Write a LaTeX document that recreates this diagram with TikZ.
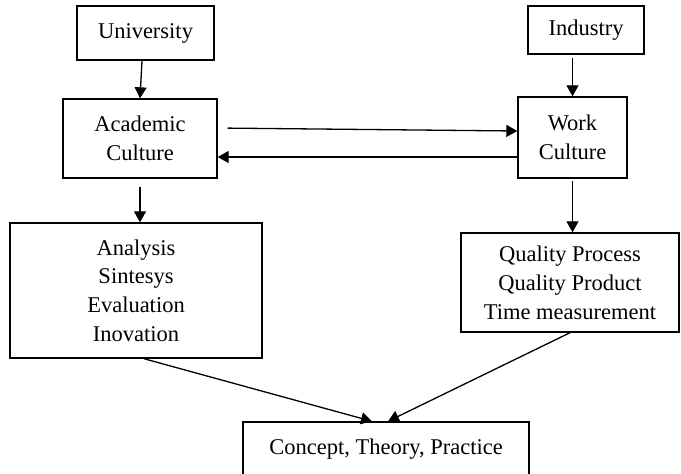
\documentclass[tikz,border=0pt]{standalone}
\usepackage{fontspec}
\setmainfont{Liberation Serif}
\usetikzlibrary{arrows.meta,calc}

\begin{document}
\begin{tikzpicture}[x=0.5pt,y=-0.5pt]
	\tikzstyle{every node}+=[inner sep=0pt, align=center, font=\fontsize{11.25pt}{14.4pt}\selectfont]
	\tikzstyle{box}=[draw, line width=0.7pt]
	\tikzstyle{link}=[line width=0.65pt, -{Triangle[length=5.5pt,width=6pt]}]
	\useasboundingbox (0,0) rectangle (681,473);
	\node [box, minimum width=68.5pt, minimum height=27pt] (univ) at (145.5,33) {University};
	\node [box, minimum width=58pt, minimum height=24pt] (ind) at (586,30) {Industry};
	\node [box, minimum width=77pt, minimum height=39.5pt] (acad) at (140,138.5) {Academic\\Culture};
	\node [box, minimum width=54.5pt, minimum height=40.5pt] (work) at (572.5,137.5) {Work\\Culture};
	\node [box, minimum width=126pt, minimum height=67.5pt] (anal) at (136,290.5) {Analysis\\Sintesys\\Evaluation\\Inovation};
	\node [box, minimum width=109pt, minimum height=49.5pt] (qual) at (570,282.5) {Quality Process\\Quality Product\\Time measurement};
	\node [box, minimum width=143pt, minimum height=27pt] (conc) at (386,449) {Concept, Theory, Practice};
	\draw [link] ($(univ.south)+(-3.5,0)$) -- ($(acad.north)$);
	\draw [link, shorten <=1.5pt] (work.north |- ind.south) -- (work.north);
	\draw [link, shorten <=5pt] ($(acad.east)+(0,-10.5)$) -- ($(work.west)+(0,-6.5)$);
	\draw [link] ($(work.west)+(0,19.5)$) -- (acad.east |- {$(work.west)+(0,19.5)$});
	\draw [link, shorten <=4pt] (acad.south) -- (acad.south |- anal.north);
	\draw [link, shorten <=1pt] (work.south) -- (work.south |- qual.north);
	\draw [link] ($(anal.south)+(8,0)$) -- ($(conc.north)+(-14,0)$);
	\draw [link] (qual.south) -- ($(conc.north)+(2,0)$);
\end{tikzpicture}
\end{document}
